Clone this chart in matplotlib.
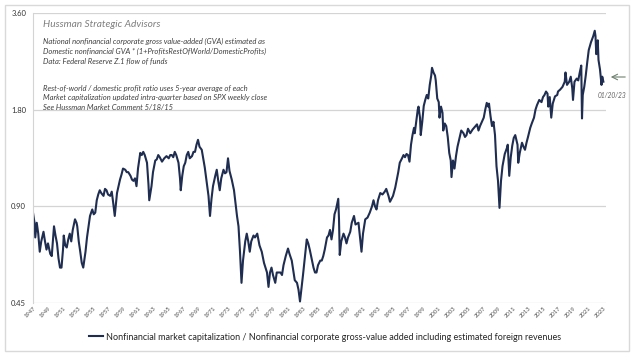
import matplotlib
matplotlib.use("Agg")
import matplotlib.pyplot as plt
from matplotlib.patches import Rectangle
from matplotlib.ticker import FixedLocator, NullLocator

# values (year, ratio)
years = [
    1947.0, 1947.2, 1947.3, 1947.5, 1947.7, 1947.9, 1948.1, 1948.4, 1948.6, 1948.8,
    1949.0, 1949.3, 1949.5, 1949.8, 1950.0, 1950.2, 1950.4, 1950.6, 1950.8, 1951.0,
    1951.1, 1951.3, 1951.5, 1951.7, 1951.9, 1952.1, 1952.3, 1952.6, 1952.8, 1952.9,
    1953.1, 1953.3, 1953.5, 1953.7, 1954.0, 1954.2, 1954.4, 1954.6, 1954.9, 1955.1,
    1955.3, 1955.5, 1955.7, 1955.9, 1956.1, 1956.4, 1956.6, 1956.8, 1957.0, 1957.3,
    1957.5, 1957.7, 1957.9, 1958.2, 1958.4, 1958.6, 1958.8, 1959.0, 1959.3, 1959.5,
    1959.7, 1960.0, 1960.2, 1960.4, 1960.6, 1960.8, 1961.0, 1961.3, 1961.5, 1961.7,
    1961.9, 1962.2, 1962.4, 1962.5, 1962.8, 1963.0, 1963.3, 1963.5, 1963.7, 1963.9,
    1964.2, 1964.5, 1964.8, 1965.1, 1965.3, 1965.5, 1965.7, 1965.9, 1966.1, 1966.4,
    1966.6, 1966.7, 1966.9, 1967.1, 1967.3, 1967.5, 1967.7, 1967.9, 1968.2, 1968.4,
    1968.6, 1968.8, 1969.0, 1969.2, 1969.5, 1969.7, 1969.9, 1970.2, 1970.4, 1970.6,
    1970.8, 1971.0, 1971.3, 1971.5, 1971.7, 1971.9, 1972.1, 1972.4, 1972.6, 1972.8,
    1973.0, 1973.2, 1973.5, 1973.8, 1974.0, 1974.2, 1974.4, 1974.6, 1974.8, 1975.0,
    1975.3, 1975.5, 1975.7, 1975.9, 1976.1, 1976.4, 1976.6, 1976.9, 1977.2, 1977.5,
    1977.8, 1978.2, 1978.4, 1978.6, 1978.8, 1979.0, 1979.3, 1979.5, 1979.7, 1980.0,
    1980.2, 1980.4, 1980.7, 1981.0, 1981.2, 1981.5, 1981.7, 1981.9, 1982.2, 1982.4,
    1982.6, 1982.8, 1983.0, 1983.3, 1983.5, 1983.7, 1983.9, 1984.2, 1984.4, 1984.6,
    1984.8, 1985.0, 1985.3, 1985.5, 1985.7, 1985.9, 1986.2, 1986.4, 1986.6, 1986.8,
    1987.0, 1987.2, 1987.4, 1987.7, 1987.8, 1987.9, 1988.1, 1988.4, 1988.6, 1988.8,
    1989.0, 1989.3, 1989.5, 1989.8, 1990.0, 1990.4, 1990.6, 1990.8, 1991.0, 1991.3,
    1991.6, 1991.9, 1992.2, 1992.4, 1992.6, 1992.8, 1993.0, 1993.3, 1993.6, 1993.9,
    1994.1, 1994.4, 1994.6, 1994.8, 1995.0, 1995.3, 1995.5, 1995.7, 1995.9, 1996.2,
    1996.4, 1996.6, 1996.8, 1997.0, 1997.2, 1997.4, 1997.6, 1997.8, 1997.9, 1998.1,
    1998.3, 1998.4, 1998.6, 1998.7, 1998.9, 1999.1, 1999.3, 1999.5, 1999.7, 1999.9,
    2000.1, 2000.2, 2000.4, 2000.6, 2000.7, 2000.9, 2001.1, 2001.2, 2001.4, 2001.6,
    2001.7, 2001.9, 2002.1, 2002.3, 2002.5, 2002.7, 2002.8, 2003.0, 2003.2, 2003.4,
    2003.6, 2003.9, 2004.1, 2004.4, 2004.6, 2004.8, 2005.0, 2005.3, 2005.6, 2005.9,
    2006.2, 2006.4, 2006.6, 2006.9, 2007.1, 2007.3, 2007.5, 2007.7, 2007.8, 2008.0,
    2008.2, 2008.4, 2008.6, 2008.8, 2009.0, 2009.2, 2009.4, 2009.6, 2009.9, 2010.2,
    2010.3, 2010.5, 2010.7, 2010.9, 2011.1, 2011.3, 2011.6, 2011.7, 2011.9, 2012.2,
    2012.4, 2012.6, 2012.8, 2013.0, 2013.3, 2013.5, 2013.8, 2014.0, 2014.2, 2014.5,
    2014.8, 2015.0, 2015.2, 2015.4, 2015.6, 2015.7, 2015.9, 2016.1, 2016.3, 2016.6,
    2016.9, 2017.0, 2017.3, 2017.6, 2017.9, 2018.0, 2018.2, 2018.5, 2018.7, 2018.9,
    2019.0, 2019.2, 2019.5, 2019.7, 2019.9, 2020.1, 2020.2, 2020.3, 2020.5, 2020.7,
    2020.9, 2021.1, 2021.4, 2021.7, 2021.9, 2022.0, 2022.1, 2022.3, 2022.4, 2022.6,
    2022.8, 2022.9, 2023.05,
]
ratio = [
    0.86, 0.80, 0.72, 0.80, 0.74, 0.65, 0.70, 0.75, 0.70, 0.66,
    0.69, 0.64, 0.63, 0.78, 0.73, 0.69, 0.62, 0.58, 0.58, 0.66,
    0.73, 0.68, 0.67, 0.71, 0.74, 0.70, 0.76, 0.82, 0.80, 0.78,
    0.70, 0.65, 0.60, 0.58, 0.65, 0.72, 0.78, 0.84, 0.88, 0.85,
    0.86, 0.94, 0.98, 1.01, 0.99, 0.97, 1.02, 1.01, 0.98, 0.97,
    1.00, 0.92, 0.84, 0.99, 1.04, 1.09, 1.13, 1.18, 1.17, 1.15,
    1.15, 1.12, 1.09, 1.08, 1.10, 1.04, 1.18, 1.32, 1.30, 1.33,
    1.30, 1.23, 1.05, 0.94, 1.04, 1.15, 1.25, 1.26, 1.30, 1.28,
    1.24, 1.27, 1.29, 1.27, 1.30, 1.30, 1.28, 1.33, 1.30, 1.23,
    1.10, 1.01, 1.12, 1.20, 1.23, 1.30, 1.33, 1.27, 1.29, 1.33,
    1.33, 1.40, 1.45, 1.38, 1.35, 1.27, 1.19, 1.05, 0.97, 0.84,
    0.95, 1.04, 1.12, 1.17, 1.08, 1.01, 1.10, 1.17, 1.14, 1.15,
    1.27, 1.16, 1.09, 1.01, 0.92, 0.84, 0.78, 0.65, 0.52, 0.61,
    0.70, 0.74, 0.70, 0.65, 0.70, 0.73, 0.72, 0.74, 0.68, 0.65,
    0.60, 0.56, 0.505, 0.56, 0.58, 0.55, 0.52, 0.56, 0.56, 0.56,
    0.55, 0.59, 0.63, 0.665, 0.64, 0.61, 0.57, 0.53, 0.52, 0.495,
    0.455, 0.50, 0.55, 0.64, 0.71, 0.69, 0.66, 0.61, 0.58, 0.56,
    0.56, 0.59, 0.61, 0.61, 0.63, 0.66, 0.72, 0.73, 0.76, 0.71,
    0.76, 0.85, 0.88, 0.95, 0.82, 0.635, 0.70, 0.74, 0.72, 0.69,
    0.72, 0.75, 0.80, 0.84, 0.79, 0.80, 0.72, 0.65, 0.74, 0.82,
    0.83, 0.86, 0.90, 0.94, 0.90, 0.88, 0.94, 0.99, 0.98, 1.00,
    1.02, 0.97, 0.93, 0.95, 0.97, 1.03, 1.09, 1.15, 1.23, 1.27,
    1.30, 1.28, 1.31, 1.30, 1.24, 1.40, 1.50, 1.58, 1.52, 1.65,
    1.80, 1.84, 1.70, 1.50, 1.65, 1.85, 1.93, 2.00, 1.95, 2.15,
    2.30, 2.43, 2.35, 2.30, 2.22, 1.95, 1.90, 1.70, 1.84, 1.76,
    1.55, 1.63, 1.60, 1.48, 1.32, 1.25, 1.11, 1.25, 1.18, 1.29,
    1.38, 1.48, 1.55, 1.52, 1.48, 1.50, 1.57, 1.52, 1.56, 1.59,
    1.62, 1.55, 1.60, 1.66, 1.70, 1.80, 1.89, 1.84, 1.88, 1.72,
    1.60, 1.65, 1.50, 1.20, 1.08, 0.89, 1.08, 1.20, 1.31, 1.37,
    1.40, 1.12, 1.28, 1.39, 1.47, 1.50, 1.40, 1.23, 1.32, 1.42,
    1.38, 1.35, 1.42, 1.48, 1.58, 1.63, 1.70, 1.80, 1.86, 1.93,
    1.90, 1.97, 2.00, 2.05, 2.02, 1.84, 1.97, 1.70, 1.88, 1.98,
    2.00, 2.05, 2.08, 2.12, 2.20, 2.35, 2.15, 2.20, 2.28, 2.10,
    1.93, 2.20, 2.25, 2.22, 2.35, 2.47, 1.69, 2.00, 2.12, 2.30,
    2.53, 2.76, 2.92, 3.05, 3.17, 3.05, 2.68, 2.96, 2.57, 2.40,
    2.15, 2.28, 2.20,
]
y_ticks = [0.45, 0.90, 1.80, 3.60]
y_labels = ["0.45", "0.90", "1.80", "3.60"]
x_ticks = list(range(1947, 2024, 2))

legend_label = ("Nonfinancial market capitalization / Nonfinancial corporate "
                "gross-value added including estimated foreign revenues")
notes = [
    "National nonfinancial corporate gross value-added (GVA) estimated as",
    "Domestic nonfinancial GVA * (1+ProfitsRestOfWorld/DomesticProfits)",
    "Data: Federal Reserve Z.1 flow of funds",
    "",
    "Rest-of-world / domestic profit ratio uses 5-year average of each",
    "Market capitalization updated intra-quarter based on SPX weekly close",
    "See Hussman Market Comment 5/18/15",
]

plt.rcParams['font.family'] = ['Lato', 'DejaVu Sans']

W, H = 640, 358
fig = plt.figure(figsize=(6.4, 3.58), dpi=100)
ax = fig.add_axes([33 / W, 1 - 303 / H, (606 - 33) / W, (303 - 13) / H])

line, = ax.plot(years, ratio, color='#1f2d50', lw=1.5, solid_joinstyle='round')

ax.set_yscale('log')
ax.set_ylim(0.45, 3.6)
ax.yaxis.set_major_locator(FixedLocator(y_ticks))
ax.yaxis.set_minor_locator(NullLocator())
ax.set_yticklabels(y_labels)
ax.set_xlim(1947, 2023.4)
ax.set_xticks(x_ticks)
ax.set_xticklabels([str(y) for y in x_ticks], rotation=45, ha='right',
                   va='top', rotation_mode='anchor')

ax.grid(axis='y', color='#d4d4d4', lw=0.9)
for s in ['top', 'right', 'bottom']:
    ax.spines[s].set_visible(False)
ax.spines['left'].set_color('#d4d4d4')
ax.tick_params(axis='y', length=0, labelsize=5.5, labelcolor='#333333', pad=5)
ax.tick_params(axis='x', length=0, labelsize=4.2, labelcolor='#505050', pad=2)

# outer frame
fig.patches.append(Rectangle((5 / W, 1 - 351 / H), 624 / W, 346 / H,
                             transform=fig.transFigure, fill=False,
                             edgecolor='#d9d9d9', lw=1))

fig.text(43 / W, 1 - 27 / H, "Hussman Strategic Advisors", style='italic',
         fontsize=7.3, color='#7f7f7f', va='baseline')
yb = 44
for n in notes:
    if n:
        fig.text(43 / W, 1 - yb / H, n, style='italic', fontsize=5.5,
                 color='#404040', va='baseline')
    yb += 9.5 if n else 18

ax.annotate("", xy=(608 / W, 1 - 77 / H), xytext=(628 / W, 1 - 77 / H),
            xycoords='figure fraction', textcoords='figure fraction',
            arrowprops=dict(arrowstyle='->', color='#708070', lw=0.8))
fig.text(612 / W, 1 - 96 / H, "01/20/23", style='italic', fontsize=4.8,
         color='#606060', ha='center', va='center')

fig.legend([line], [legend_label], loc='center',
           bbox_to_anchor=(325 / W, 1 - 337 / H), frameon=False, fontsize=6.5,
           handlelength=1.5, handletextpad=0.3, labelcolor='#262626')

fig.savefig('out.png', dpi=100, facecolor='white')
